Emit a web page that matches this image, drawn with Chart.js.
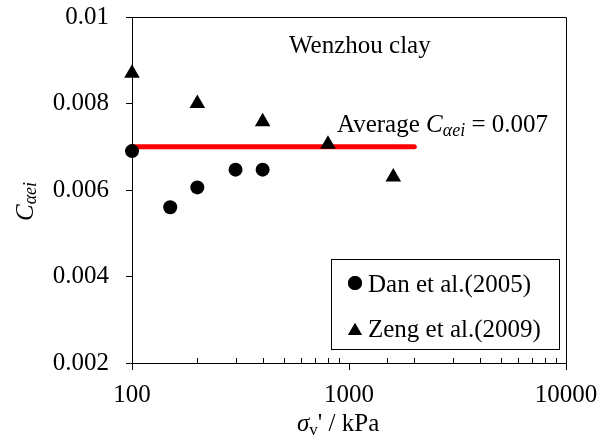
<!DOCTYPE html>
<html lang="en">
  <head>
    <meta charset="UTF-8" />
    <title>Wenzhou clay C_aei</title>
    <script src="https://cdn.jsdelivr.net/npm/chart.js"></script>
    <style>
      html, body { margin: 0; padding: 0; background: #fff; }
      canvas { display: block; }
    </style>
  </head>
  <body>
    <canvas id="grafico" width="601" height="441"></canvas>
  </body>
</html>

<script>
  // valores
  const danStress = [100, 150, 200, 300, 400];
  const danCae = [0.0069, 0.0056, 0.00606, 0.00647, 0.00647];
  const zengStress = [100, 200, 400, 800, 1600];
  const zengCae = [0.0087, 0.008, 0.00758, 0.00706, 0.0063];
  const avgStress = [100, 2000];
  const avgCae = [0.007, 0.007];
  const yTicks = [0.002, 0.004, 0.006, 0.008, 0.01];

  const fonte = '"Liberation Serif", "Times New Roman", serif';

  function pontos(xs, ys) {
    return xs.map((x, i) => ({ x: x, y: ys[i] }));
  }

  // desenha texto com subscrito
  function textoSub(ctx, partes, x, y) {
    partes.forEach((p) => {
      ctx.font = p.font;
      ctx.fillText(p.t, x, y + (p.dy || 0));
      x += ctx.measureText(p.t).width;
    });
    return x;
  }

  const extras = {
    id: "extras",
    afterDraw(chart) {
      const ctx = chart.ctx;
      const a = chart.chartArea;
      const xs = chart.scales.x;
      ctx.save();
      ctx.strokeStyle = "#000";
      ctx.fillStyle = "#000";
      ctx.lineWidth = 1;

      // moldura topo e direita
      ctx.beginPath();
      ctx.moveTo(a.left, a.top + 0.5);
      ctx.lineTo(a.right + 0.5, a.top + 0.5);
      ctx.lineTo(a.right + 0.5, a.bottom);
      ctx.stroke();

      // ticks do eixo x (maiores para fora, menores para dentro)
      ctx.beginPath();
      xs.ticks.forEach((t) => {
        const px = Math.round(xs.getPixelForValue(t.value)) + 0.5;
        const ehMaior = Math.abs(Math.log10(t.value) - Math.round(Math.log10(t.value))) < 1e-9;
        ctx.moveTo(px, a.bottom);
        ctx.lineTo(px, ehMaior ? a.bottom + 7 : a.bottom - 5);
      });
      ctx.stroke();

      // legenda
      ctx.strokeRect(331.5, 259.5, 228, 90);
      Chart.helpers.drawPoint(ctx, { pointStyle: "circle", radius: 7, borderWidth: 0 }, 355, 283);
      ctx.fill();
      Chart.helpers.drawPoint(ctx, { pointStyle: "triangle", radius: 8, borderWidth: 0 }, 355, 331);
      ctx.fill();
      ctx.font = "25px " + fonte;
      ctx.textBaseline = "alphabetic";
      ctx.fillText("Dan et al.(2005)", 368, 292);
      ctx.fillText("Zeng et al.(2009)", 368, 337);

      // anotações
      ctx.fillText("Wenzhou clay", 289, 53);
      textoSub(ctx, [
        { t: "Average ", font: "25px " + fonte },
        { t: "C", font: "italic 25px " + fonte },
        { t: "\u03b1ei", font: "italic 18px " + fonte, dy: 4 },
        { t: " = 0.007", font: "25px " + fonte },
      ], 337, 132);

      // título eixo x
      const partesX = [
        { t: "\u03c3", font: "italic 25px " + fonte },
        { t: "v", font: "17px " + fonte, dy: 4 },
        { t: "' / kPa", font: "25px " + fonte },
      ];
      textoSub(ctx, partesX, 297, 431);

      // título eixo y
      ctx.translate(33, 221);
      ctx.rotate(-Math.PI / 2);
      textoSub(ctx, [
        { t: "C", font: "italic 25px " + fonte },
        { t: "\u03b1ei", font: "italic 18px " + fonte, dy: 3 },
      ], 0, 0);
      ctx.restore();
    },
  };

  const config = {
    type: "scatter",
    data: {
      datasets: [
        {
          label: "Dan et al.(2005)",
          data: pontos(danStress, danCae),
          pointStyle: "circle",
          pointRadius: 7,
          pointBorderWidth: 0,
          backgroundColor: "#000",
          borderColor: "#000",
          clip: false,
          order: 1,
        },
        {
          label: "Zeng et al.(2009)",
          data: pontos(zengStress, zengCae),
          pointStyle: "triangle",
          pointRadius: 9,
          pointBorderWidth: 0,
          backgroundColor: "#000",
          borderColor: "#000",
          clip: false,
          order: 1,
        },
        {
          label: "Average",
          type: "line",
          data: pontos(avgStress, avgCae),
          borderColor: "#ff0000",
          borderWidth: 5,
          borderCapStyle: "round",
          pointRadius: 0,
          clip: false,
          order: 3,
        },
      ],
    },
    options: {
      responsive: false,
      animation: false,
      devicePixelRatio: 1,
      layout: { padding: { left: 0, right: 35, top: 17, bottom: 0 } },
      plugins: {
        legend: { display: false },
        tooltip: { enabled: false },
      },
      scales: {
        x: {
          type: "logarithmic",
          min: 100,
          max: 10000,
          afterFit: (s) => {
            s.height = 78;
            s.paddingLeft = 0;
            s.paddingRight = 0;
          },
          border: { display: true, color: "#000", width: 1 },
          grid: { drawOnChartArea: false, drawTicks: false, color: "rgba(0,0,0,0)" },
          ticks: {
            autoSkip: false,
            maxRotation: 0,
            padding: 17,
            color: "#000",
            font: { family: fonte, size: 25 },
            callback: (v) => ([100, 1000, 10000].includes(v) ? String(v) : ""),
          },
        },
        y: {
          min: 0.002,
          max: 0.01,
          afterFit: (s) => {
            s.width = 132;
            s.paddingTop = 0;
            s.paddingBottom = 0;
          },
          afterBuildTicks: (s) => { s.ticks = yTicks.map((v) => ({ value: v })); },
          border: { display: true, color: "#000", width: 1 },
          grid: { drawOnChartArea: false, drawTicks: true, tickLength: 6, color: "#000" },
          ticks: {
            padding: 17,
            color: "#000",
            font: { family: fonte, size: 25 },
            callback: (v) => String(+v.toFixed(3)),
          },
        },
      },
    },
    plugins: [extras],
  };

  const grafico = new Chart(document.getElementById("grafico"), config);
</script>
